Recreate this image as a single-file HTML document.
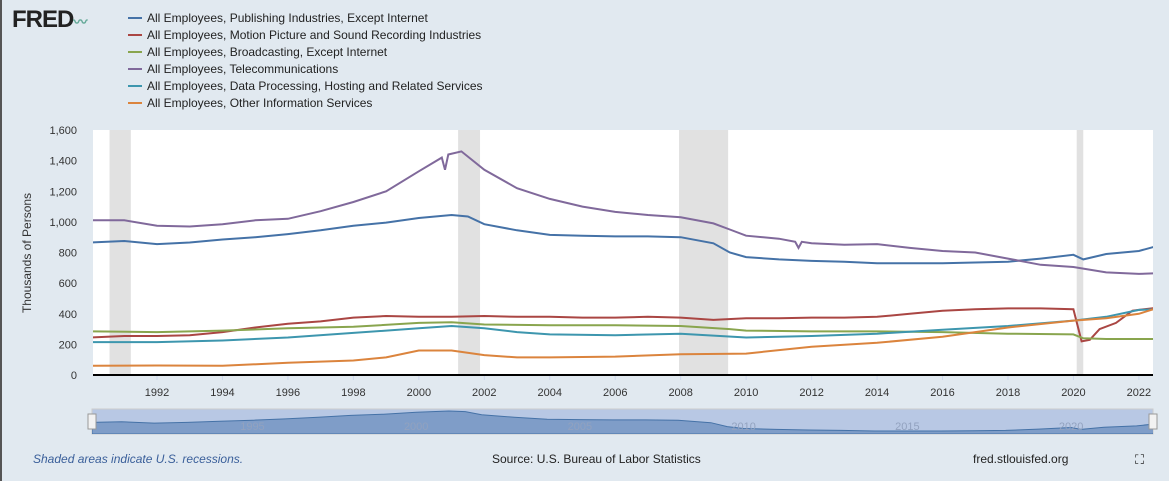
<!DOCTYPE html>
<html><head><meta charset="utf-8"><style>
body{margin:0;width:1169px;height:481px;background:#e1e9f0;font-family:"Liberation Sans",sans-serif;overflow:hidden;position:relative}
.lg{position:absolute;left:128px;font-size:12px;color:#222}
.lg span{display:inline-block;width:14px;height:2px;vertical-align:middle;margin-right:5px;position:relative;top:-1px}
</style></head><body>
<div style="position:absolute;left:0;top:0;width:2px;height:481px;background:#555"></div>
<div style="position:absolute;left:12px;top:6px;font-weight:bold;font-size:24px;color:#222;letter-spacing:-1px">FRED<span style="font-size:14px;color:#6a9">〰</span></div>
<div id="legend"></div>
<svg id="c" width="1169" height="481" style="position:absolute;left:0;top:0"></svg>
<div style="position:absolute;left:33px;top:452px;font-size:12px;font-style:italic;color:#3a5f9a">Shaded areas indicate U.S. recessions.</div>
<div style="position:absolute;left:492px;top:452px;font-size:12px;color:#222">Source: U.S. Bureau of Labor Statistics</div>
<div style="position:absolute;left:973px;top:452px;font-size:12px;color:#222">fred.stlouisfed.org</div>
<div style="position:absolute;left:1135px;top:452px;font-size:13px;color:#222">⛶</div>
<script>
const names=["All Employees, Publishing Industries, Except Internet","All Employees, Motion Picture and Sound Recording Industries","All Employees, Broadcasting, Except Internet","All Employees, Telecommunications","All Employees, Data Processing, Hosting and Related Services","All Employees, Other Information Services"];
const colors=["#4572a7","#aa4643","#89a54e","#80699b","#3d96ae","#db843d"];
const recessions=[[1990.55,1991.2],[2001.2,2001.87],[2007.95,2009.45],[2020.1,2020.3]];
const yTicks=[0,200,400,600,800,1000,1200,1400,1600];
const xTicks=[1992,1994,1996,1998,2000,2002,2004,2006,2008,2010,2012,2014,2016,2018,2020,2022];
const pubT=[1990,1991,1992,1993,1994,1995,1996,1997,1998,1999,2000,2001,2001.5,2002,2003,2004,2005,2006,2007,2008,2009,2009.5,2010,2011,2012,2013,2014,2015,2016,2017,2018,2019,2020,2020.3,2021,2022,2022.6];
const pubV=[865,875,855,865,885,900,920,945,975,995,1025,1045,1035,985,945,915,910,905,905,900,860,800,770,755,745,740,730,730,730,735,740,760,785,755,790,810,845];
const telT=[1990,1991,1992,1993,1994,1995,1996,1997,1998,1999,2000,2000.7,2000.8,2000.9,2001.3,2002,2003,2004,2005,2006,2007,2008,2009,2009.5,2010,2011,2011.5,2011.6,2011.7,2012,2013,2014,2015,2016,2017,2018,2019,2020,2021,2022,2022.6];
const telV=[1010,1010,975,970,985,1010,1020,1070,1130,1200,1330,1420,1340,1440,1460,1340,1220,1150,1100,1065,1045,1030,990,950,910,890,870,830,870,860,850,855,830,810,800,760,720,705,670,660,665];
const motT=[1990,1991,1992,1993,1994,1995,1996,1997,1998,1999,2000,2001,2002,2003,2004,2005,2006,2007,2008,2009,2010,2011,2012,2013,2014,2015,2016,2017,2018,2019,2020,2020.25,2020.5,2020.8,2021.3,2021.8,2022,2022.6];
const motV=[245,255,255,260,280,310,335,350,375,385,380,380,385,380,380,375,375,380,375,360,370,370,375,375,380,400,420,430,435,435,430,220,230,300,340,420,425,440];
const broT=[1990,1992,1994,1996,1998,2000,2001,2002,2004,2006,2008,2009.5,2010,2012,2014,2016,2018,2020,2020.3,2021,2022.6];
const broV=[285,280,290,305,315,340,345,330,325,325,320,300,290,285,285,280,270,265,240,235,235];
const datT=[1990,1992,1994,1996,1998,2000,2001,2002,2003,2004,2006,2008,2010,2012,2014,2016,2018,2020,2021,2022,2022.6];
const datV=[215,215,225,245,275,305,320,305,280,265,260,270,245,255,270,295,320,355,380,425,430];
const othT=[1990,1992,1994,1996,1998,1999,2000,2001,2002,2003,2004,2006,2008,2010,2012,2014,2016,2018,2020,2021,2022,2022.6];
const othV=[60,62,60,80,95,115,160,160,130,115,115,120,135,140,185,210,250,310,355,370,400,440];
const series=[[pubT,pubV],[motT,motV],[broT,broV],[telT,telV],[datT,datV],[othT,othV]];
const L=93,R=1153,T=130,B=375;
const x=t=>157+(t-1992)*32.73, y=v=>B-v*(B-T)/1600;
const NS="http://www.w3.org/2000/svg", svg=document.getElementById('c');
function mk(tag,a,p){const e=document.createElementNS(NS,tag);for(const k in a)e.setAttribute(k,a[k]);(p||svg).appendChild(e);return e;}
const lgd=document.getElementById('legend');
names.forEach((n,i)=>{const d=document.createElement('div');d.className='lg';d.style.top=(11+i*17)+'px';d.innerHTML='<span style="background:'+colors[i]+'"></span>'+n;


lgd.appendChild(d);});
const bg=mk('rect',{x:L,y:T,width:R-L,height:B-T,fill:'#fff'});


recessions.forEach(r=>{const e=mk('rect',{x:x(r[0]),y:T,width:x(r[1])-x(r[0]),height:B-T,fill:'#e1e1e1'});

});
yTicks.forEach(v=>{
const t=mk('text',{x:77,y:y(v)+4,'text-anchor':'end','font-size':11,fill:'#333'});t.textContent=v.toLocaleString('en-US');

});
xTicks.forEach(v=>{mk('line',{x1:x(v),x2:x(v),y1:B,y2:B+5,stroke:'#ccd6eb'});
const t=mk('text',{x:x(v),y:396,'text-anchor':'middle','font-size':11,fill:'#333'});t.textContent=v;

});
const yt=mk('text',{x:31,y:253,'text-anchor':'middle','font-size':12,fill:'#333',transform:'rotate(-90 31 253)'});yt.textContent='Thousands of Persons';


const cp=mk('clipPath',{id:'cl'});mk('rect',{x:L,y:T-20,width:R-L,height:B-T+20},cp);
series.forEach((s,i)=>{const p=mk('path',{d:s[0].map((t,j)=>(j?'L':'M')+x(t).toFixed(1)+','+y(s[1][j]).toFixed(1)).join(''),fill:'none',stroke:colors[i],'stroke-width':2,'clip-path':'url(#cl)'});

});
const ax=mk('line',{x1:L,x2:R,y1:B,y2:B,stroke:'#000','stroke-width':2});


// navigator
const nT=409,nB=434,nx=t=>92+(t-1990.1)*(1153-92)/32.4,ny=v=>431-(v-730)*0.0635;
const cp2=mk('clipPath',{id:'cl2'});mk('rect',{x:92,y:nT,width:1061,height:nB-nT},cp2);
const nb=mk('rect',{x:92,y:nT,width:1061,height:nB-nT,fill:'#b8c8e4',stroke:'#ccc'});


const na=mk('path',{d:'M'+nx(1990.1)+','+nB+pubT.map((t,j)=>'L'+nx(Math.max(t,1990.1)).toFixed(1)+','+ny(pubV[j]).toFixed(1)).join('')+'L1153,'+nB+'Z',fill:'#7f9dc8',stroke:'#4572a7','stroke-width':1,'clip-path':'url(#cl2)'});


[1995,2000,2005,2010,2015,2020].forEach(v=>{const t=mk('text',{x:nx(v),y:430,'text-anchor':'middle','font-size':11,fill:'#92a2bf'});t.textContent=v;

});
[92,1153].forEach(hx=>{const h=mk('rect',{x:hx-4,y:414,width:8,height:15,fill:'#f2f2f2',stroke:'#999'});

});
</script>
</body></html>
